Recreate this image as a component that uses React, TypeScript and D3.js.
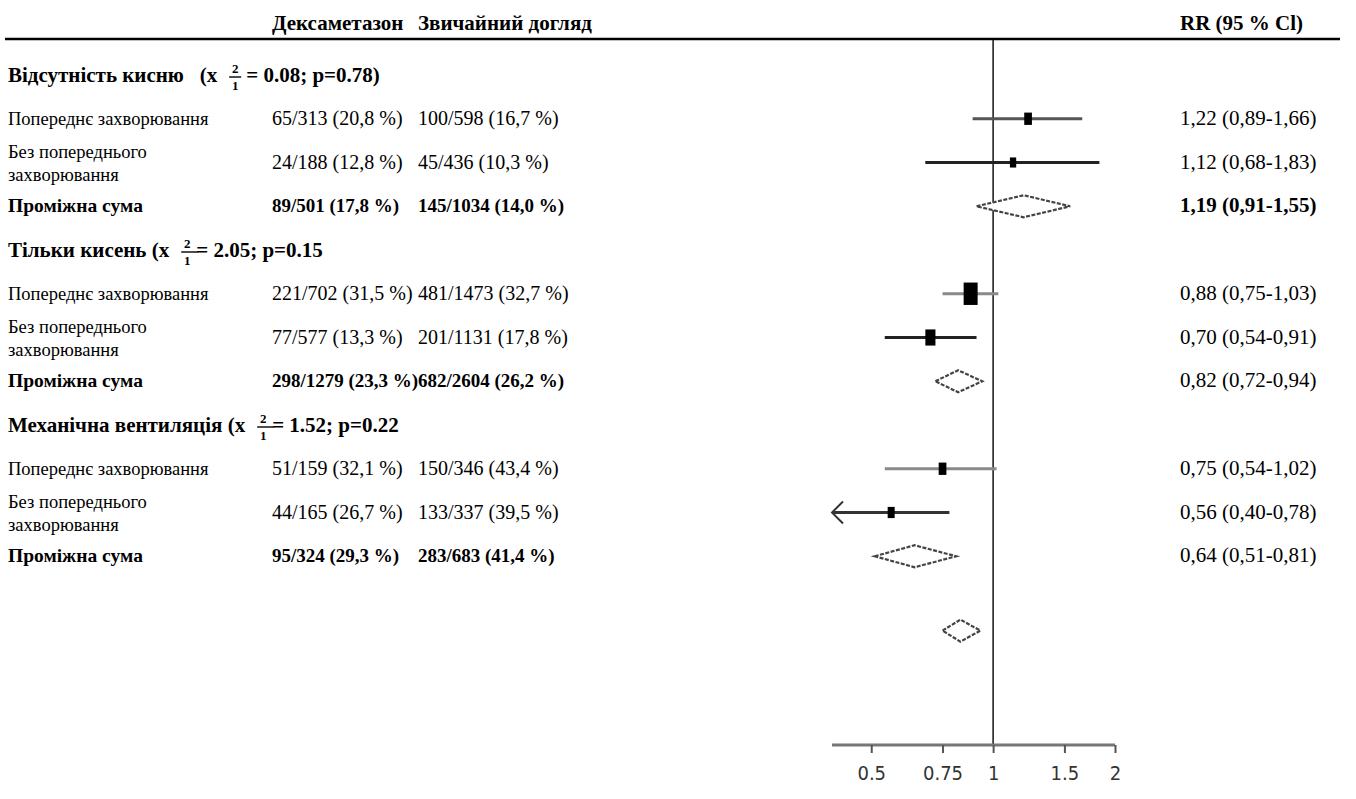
import { useEffect, useRef } from 'react'
import * as d3 from 'd3'

// groups (section headers)
const groupNames = ['Відсутність кисню   (x', 'Тільки кисень (x', 'Механічна вентиляція (x']
const groupChi = ['0.08', '2.05', '1.52']
const groupP = ['0.78)', '0.15', '0.22']

// rows inside groups
const rowLabels = [
    ['Попереднє захворювання'],
    ['Без попереднього', 'захворювання'],
    ['Проміжна сума'],
    ['Попереднє захворювання'],
    ['Без попереднього', 'захворювання'],
    ['Проміжна сума'],
    ['Попереднє захворювання'],
    ['Без попереднього', 'захворювання'],
    ['Проміжна сума'],
]
const rowGroup = [0, 0, 0, 1, 1, 1, 2, 2, 2]
const isSubtotal = [false, false, true, false, false, true, false, false, true]
const dexEvents = [65, 24, 89, 221, 77, 298, 51, 44, 95]
const dexTotal = [313, 188, 501, 702, 577, 1279, 159, 165, 324]
const dexPct = [20.8, 12.8, 17.8, 31.5, 13.3, 23.3, 32.1, 26.7, 29.3]
const usualEvents = [100, 45, 145, 481, 201, 682, 150, 133, 283]
const usualTotal = [598, 436, 1034, 1473, 1131, 2604, 346, 337, 683]
const usualPct = [16.7, 10.3, 14.0, 32.7, 17.8, 26.2, 43.4, 39.5, 41.4]
const rr = [1.22, 1.12, 1.19, 0.88, 0.7, 0.82, 0.75, 0.56, 0.64]
const rrLo = [0.89, 0.68, 0.91, 0.75, 0.54, 0.72, 0.54, 0.4, 0.51]
const rrHi = [1.66, 1.83, 1.55, 1.03, 0.91, 0.94, 1.02, 0.78, 0.81]
const rrBoldText = [false, false, true, false, false, false, false, false, false]
// relative box weight (subtotals drawn as diamonds)
const boxWeight = [0.55, 0.45, 0, 1, 0.72, 0, 0.55, 0.5, 0]
const ciColor = ['#555', '#222', '#000', '#8a8a8a', '#222', '#000', '#8a8a8a', '#333', '#000']

// overall estimate
const overall = { rr: 0.83, lo: 0.75, hi: 0.93 }

const ticks = [0.5, 0.75, 1, 1.5, 2]
const headers = ['Дексаметазон', 'Звичайний догляд', 'RR (95 % Cl)']

const fmt = (v: number, d = 1) => v.toFixed(d).replace('.', ',')

export default function App() {
    const ref = useRef<SVGSVGElement>(null)

    useEffect(() => {
        const svg = d3.select(ref.current)
        svg.selectAll('*').remove()

        const serif = "'Liberation Serif', 'Times New Roman', serif"

        const x = d3.scaleLog().domain([0.4, 2]).range([832, 1115])
        // slot index -> y; each group uses 4 slots (header + 3 rows)
        const y = d3.scaleLinear().domain([0, 12]).range([75, 600])
        const axisY = 745
        const rowSlot = rowGroup.map((g, i) => g * 4 + (i % 3) + 1)

        const colX = { label: 8, dex: 272, usual: 418, rr: 1180 }

        // header
        const head = svg.append('g').attr('font-family', serif).attr('font-weight', 'bold').attr('font-size', 21)
        head.append('text').attr('x', colX.dex).attr('y', 30).text(headers[0])
        head.append('text').attr('x', colX.usual).attr('y', 30).text(headers[1])
        head.append('text').attr('x', colX.rr).attr('y', 30).text(headers[2])
        svg.append('line')
            .attr('x1', 5).attr('x2', 1340).attr('y1', 39).attr('y2', 39)
            .attr('stroke', '#000').attr('stroke-width', 2.5)

        // vertical line of no effect
        svg.append('line')
            .attr('x1', x(1)).attr('x2', x(1)).attr('y1', 40).attr('y2', axisY)
            .attr('stroke', '#222').attr('stroke-width', 1.6)

        // group headers with chi-square fraction
        groupNames.forEach((name, g) => {
            const cy = y(g * 4)
            const gt = svg.append('g').attr('font-family', serif).attr('font-weight', 'bold')
            const t = gt.append('text')
                .attr('x', colX.label).attr('y', cy + 7).attr('font-size', 21)
                .style('white-space', 'pre').text(name)
            const w = (t.node() as SVGTextElement).getComputedTextLength()
            const fx = colX.label + w + 12
            const barW = g === 0 ? 12 : 17
            gt.append('text').attr('x', fx + 6).attr('y', cy - 2).attr('font-size', 13)
                .attr('text-anchor', 'middle').text('2')
            gt.append('line').attr('x1', fx).attr('x2', fx + barW).attr('y1', cy + 2).attr('y2', cy + 2)
                .attr('stroke', '#000').attr('stroke-width', 1.4)
            gt.append('text').attr('x', fx + 6).attr('y', cy + 15).attr('font-size', 13)
                .attr('text-anchor', 'middle').text('1')
            gt.append('text').attr('x', fx + (g === 0 ? 17 : 15)).attr('y', cy + 7).attr('font-size', 21)
                .text(`= ${groupChi[g]}; p=${groupP[g]}`)
        })

        // row texts
        const rows = svg.append('g').attr('font-family', serif)
        rowLabels.forEach((lines, i) => {
            const cy = y(rowSlot[i])
            const sub = isSubtotal[i]
            const bold = sub ? 'bold' : 'normal'
            lines.forEach((ln, k) => {
                const off = lines.length > 1 ? (k === 0 ? -11 : 12) : 0
                rows.append('text').attr('x', colX.label).attr('y', cy + off + 6)
                    .attr('font-size', sub ? 19.5 : 18.5)
                    .attr('font-weight', bold).text(ln)
            })
            rows.append('text').attr('x', colX.dex).attr('y', cy + 6)
                .attr('font-size', sub ? 19 : 20).attr('font-weight', bold)
                .text(`${dexEvents[i]}/${dexTotal[i]} (${fmt(dexPct[i])} %)`)
            rows.append('text').attr('x', colX.usual).attr('y', cy + 6)
                .attr('font-size', sub ? 19 : 20).attr('font-weight', bold)
                .text(`${usualEvents[i]}/${usualTotal[i]} (${fmt(usualPct[i])} %)`)
            rows.append('text').attr('x', colX.rr).attr('y', cy + 6)
                .attr('font-size', 21)
                .attr('font-weight', rrBoldText[i] ? 'bold' : 'normal')
                .text(`${fmt(rr[i], 2)} (${fmt(rrLo[i], 2)}-${fmt(rrHi[i], 2)})`)
        })

        // CI lines + boxes
        const boxW = d3.scaleLinear().domain([0, 1]).range([0, 14])
        const marks = svg.append('g')
        rowLabels.forEach((_, i) => {
            const cy = y(rowSlot[i])
            if (isSubtotal[i]) return
            const lo = Math.max(rrLo[i], x.domain()[0])
            marks.append('line')
                .attr('x1', x(lo)).attr('x2', x(rrHi[i])).attr('y1', cy).attr('y2', cy)
                .attr('stroke', ciColor[i]).attr('stroke-width', 3)
            if (rrLo[i] <= x.domain()[0]) {
                const ax = x(x.domain()[0])
                marks.append('path')
                    .attr('d', `M${ax + 11},${cy - 11} L${ax},${cy} L${ax + 11},${cy + 11}`)
                    .attr('fill', 'none').attr('stroke', ciColor[i]).attr('stroke-width', 2)
            }
            const bw = boxW(boxWeight[i])
            const bh = bw * 1.6
            marks.append('rect')
                .attr('x', x(rr[i]) - bw / 2).attr('y', cy - bh / 2)
                .attr('width', bw).attr('height', bh).attr('fill', '#000')
        })

        // diamonds
        const diamond = (est: number, lo: number, hi: number, cy: number) =>
            `M${x(lo)},${cy} L${x(est)},${cy - 11} L${x(hi)},${cy} L${x(est)},${cy + 11} Z`
        rowLabels.forEach((_, i) => {
            if (!isSubtotal[i]) return
            marks.append('path').attr('d', diamond(rr[i], rrLo[i], rrHi[i], y(rowSlot[i])))
                .attr('fill', '#fff').attr('stroke', '#444').attr('stroke-width', 2.2)
                .attr('stroke-dasharray', '4,1.5')
        })
        marks.append('path').attr('d', diamond(overall.rr, overall.lo, overall.hi, y(12.7)))
            .attr('fill', '#fff').attr('stroke', '#444').attr('stroke-width', 2.2)
            .attr('stroke-dasharray', '4,1.5')

        // bottom axis
        const axis = svg.append('g').attr('transform', `translate(0,${axisY})`)
            .call(d3.axisBottom(x).tickValues(ticks).tickSize(8).tickFormat((d) => String(d)))
        axis.select('.domain').attr('stroke', '#777').attr('stroke-width', 3)
            .attr('d', `M${x.range()[0]},0H${x.range()[1]}`)
        axis.selectAll('.tick line').attr('stroke', '#555').attr('stroke-width', 2)
        axis.selectAll('.tick text')
            .attr('font-family', "'Liberation Sans Narrow', 'DejaVu Sans Condensed', sans-serif")
            .attr('font-size', 20).attr('fill', '#333').attr('dy', '1.2em')
        axis.attr('font-size', null).attr('font-family', null)
    }, [])

    return (
        <svg
            ref={ref}
            width={1356}
            height={799}
            style={{ position: 'absolute', left: 0, top: 0, background: '#fff', display: 'block' }}
        />
    )
}
